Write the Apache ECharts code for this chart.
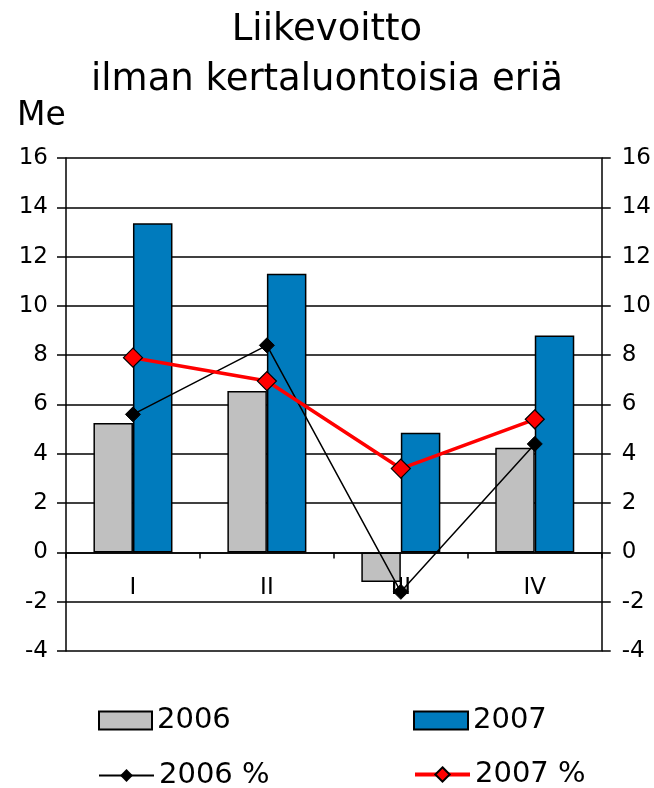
<!DOCTYPE html>
<html><head><meta charset="utf-8">
<script src="https://cdn.jsdelivr.net/npm/echarts@6/dist/echarts.min.js"></script>
<style>html,body{margin:0;padding:0;background:#fff}#c{width:654px;height:788px}</style>
</head><body><div id="c"></div>
<script>
const categories = ['I', 'II', 'III', 'IV'];
const bars2006 = [5.25, 6.55, -1.2, 4.25];
const bars2007 = [13.35, 11.3, 4.85, 8.8];
const pct2006 = [5.6, 8.4, -1.6, 4.4];
const pct2007 = [7.9, 6.95, 3.4, 5.4];
const yMin = -4, yMax = 16, yStep = 2;

const FONT = '"DejaVu Sans", sans-serif';
const chart = echarts.init(document.getElementById('c'));
const legendText = {fontFamily: FONT, fontSize: 29, color: '#000'};
function leg(name, left, top, w, h, icon, extra) {
  const o = {data: [name], left: left, top: top, itemWidth: w, itemHeight: h, itemGap: 0,
    textStyle: legendText, padding: 0, selectedMode: false};
  if (icon) o.icon = icon;
  return Object.assign(o, extra || {});
}
const gridTop = 158, gridBottom = 137, H = 788;
const plotH = H - gridTop - gridBottom;
const zeroOffset = -plotH * (0 - yMin) / (yMax - yMin);
chart.setOption({
  animation: false,
  backgroundColor: '#fff',
  title: {
    text: 'Liikevoitto\nilman kertaluontoisia eriä',
    left: 'center', top: 0,
    textStyle: {fontFamily: FONT, fontSize: 37, fontWeight: 'normal', color: '#000', lineHeight: 50}
  },
  graphic: [{type: 'text', left: 17, top: 100, style: {text: 'Me', font: '33px ' + FONT, fill: '#000'}}],
  legend: [
    leg('2006', 98, 706, 53, 18, 'rect'),
    leg('2007', 413, 706, 54, 18, 'rect'),
    leg('2006 %', 98, 761, 55, 16),
    leg('2007 %', 413, 760, 55, 18, null, {lineStyle: {width: 4}})
  ],
  grid: {left: 66, right: 47, top: gridTop, bottom: gridBottom, containLabel: false},
  xAxis: {
    type: 'category', data: categories, offset: zeroOffset,
    axisLine: {onZero: false, lineStyle: {color: '#000', width: 1.5}},
    axisTick: {show: true, alignWithLabel: false, length: 6, lineStyle: {color: '#000', width: 1.5}},
    axisLabel: {fontFamily: FONT, fontSize: 23, color: '#000', margin: 24},
    splitLine: {show: false}
  },
  yAxis: [{
    type: 'value', min: yMin, max: yMax, interval: yStep,
    axisLine: {show: true, lineStyle: {color: '#000', width: 1.5}},
    axisTick: {show: true, length: 9, lineStyle: {color: '#000', width: 1.5}},
    axisLabel: {fontFamily: FONT, fontSize: 23, color: '#000', margin: 18},
    splitLine: {show: true, lineStyle: {color: '#000', width: 1.5}}
  }, {
    type: 'value', min: yMin, max: yMax, interval: yStep, position: 'right',
    axisLine: {show: true, lineStyle: {color: '#000', width: 1.5}},
    axisTick: {show: true, length: 9, lineStyle: {color: '#000', width: 1.5}},
    axisLabel: {fontFamily: FONT, fontSize: 23, color: '#000', margin: 20},
    splitLine: {show: false}
  }],
  series: [
    {name: '2006', type: 'bar', data: bars2006, barGap: '0%', barCategoryGap: '41%',
      itemStyle: {color: '#c0c0c0', borderColor: '#000', borderWidth: 1.5}},
    {name: '2007', type: 'bar', data: bars2007, barGap: '0%', barCategoryGap: '41%',
      itemStyle: {color: '#007bbd', borderColor: '#000', borderWidth: 1.5}},
    {name: '2006 %', type: 'line', data: pct2006, symbol: 'diamond', symbolSize: 15,
      lineStyle: {color: '#000', width: 1.5}, itemStyle: {color: '#000', borderColor: '#000'}, z: 5},
    {name: '2007 %', type: 'line', data: pct2007, symbol: 'diamond', symbolSize: 19,
      lineStyle: {color: '#ff0000', width: 3.5}, itemStyle: {color: '#ff0000', borderColor: '#000', borderWidth: 1.2}, z: 6}
  ]
});
</script></body></html>
